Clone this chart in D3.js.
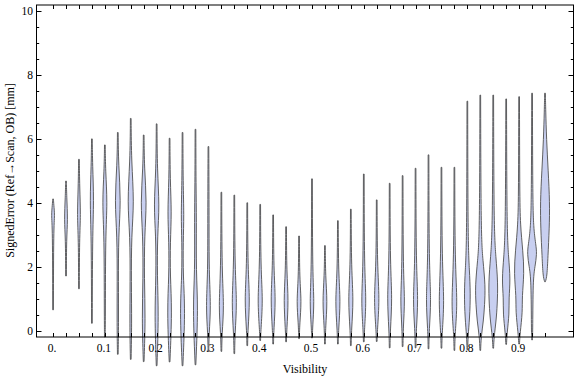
<!DOCTYPE html>
<html>
<head>
<meta charset="utf-8">
<script src="https://cdn.jsdelivr.net/npm/d3@7"></script>
<style>
  html, body { margin: 0; padding: 0; background: #fff; }
  svg { display: block; }
  text { font-family: "Liberation Serif", "Times New Roman", serif; fill: #000; }
</style>
</head>
<body>
<svg id="chart" width="576" height="377"></svg>
<script>
// ---- data ----
const visibility = [0, 0.025, 0.05, 0.075, 0.1, 0.125, 0.15, 0.175, 0.2, 0.225,
  0.25, 0.275, 0.3, 0.325, 0.35, 0.375, 0.4, 0.425, 0.45, 0.475,
  0.5, 0.525, 0.55, 0.575, 0.6, 0.625, 0.65, 0.675, 0.7, 0.725,
  0.75, 0.775, 0.8, 0.825, 0.85, 0.875, 0.9, 0.925, 0.95];

const errMin = [0.65, 1.71, 1.31, 0.23, -0.2, -0.74, -0.9, -0.97, -1.1, -0.98,
  -1.1, -1.07, -0.65, -0.65, -0.72, -0.47, -0.31, -0.42, -0.35, -0.25,
  -0.23, -0.42, -0.42, -0.47, -0.35, -0.34, -0.54, -0.5, -0.54, -0.57,
  -0.55, -0.62, -0.6, -0.62, -0.55, -0.43, -0.42, -0.29, 1.53];

const errMax = [4.12, 4.68, 5.36, 6.0, 5.81, 6.2, 6.64, 6.12, 6.47, 6.02,
  6.2, 6.3, 5.76, 4.33, 4.24, 4.0, 3.95, 3.62, 3.25, 2.96,
  4.75, 2.66, 3.44, 3.8, 4.9, 4.09, 4.61, 4.85, 5.08, 5.5,
  5.11, 5.11, 7.18, 7.37, 7.37, 7.25, 7.32, 7.43, 7.43];

// density profile knots per violin: [signed error, relative density]
const densityKnots = [
  [[3.25,0.03],[3.6,0.25],[3.95,0.06]],
  [[2.9,0.03],[3.45,0.25],[4.2,0.06]],
  [[2.9,0.03],[3.6,0.25],[4.5,0.06]],
  [[3.0,0.04],[4.05,0.3],[5.2,0.05]],
  [[0.5,0.04],[3.0,0.05],[4.0,0.4],[5.0,0.06]],
  [[0.2,0.08],[1.5,0.04],[3.0,0.06],[4.05,0.5],[5.2,0.06]],
  [[0.2,0.12],[1.5,0.04],[3.0,0.06],[4.0,0.55],[5.3,0.06]],
  [[0.4,0.25],[1.6,0.04],[3.0,0.08],[4.0,0.5],[5.1,0.05]],
  [[0.5,0.3],[1.7,0.04],[3.0,0.08],[3.9,0.45],[5.0,0.05]],
  [[0.65,0.38],[1.7,0.04],[2.8,0.06],[3.7,0.3],[4.7,0.04]],
  [[0.65,0.42],[1.7,0.04],[2.8,0.05],[3.6,0.2],[4.6,0.04]],
  [[0.75,0.42],[1.8,0.04],[3.5,0.12],[4.5,0.03]],
  [[-0.1,0.05],[0.75,0.38],[1.8,0.04],[3.5,0.06]],
  [[-0.1,0.05],[0.75,0.42],[1.8,0.04]],
  [[-0.1,0.05],[0.86,0.42],[1.9,0.04]],
  [[0.0,0.05],[0.96,0.42],[1.9,0.04]],
  [[0.0,0.05],[0.96,0.42],[1.9,0.04]],
  [[0.0,0.05],[0.96,0.4],[1.9,0.04]],
  [[0.0,0.05],[0.96,0.38],[1.8,0.04]],
  [[0.2,0.05],[0.91,0.38],[1.6,0.04]],
  [[0.1,0.05],[0.91,0.35],[1.7,0.04]],
  [[0.1,0.05],[0.91,0.38],[1.7,0.04]],
  [[0.0,0.05],[0.91,0.42],[1.8,0.04]],
  [[0.0,0.05],[0.96,0.42],[1.9,0.04]],
  [[0.0,0.05],[0.96,0.4],[1.9,0.04]],
  [[0.0,0.05],[1.0,0.45],[2.0,0.04]],
  [[0.0,0.05],[1.02,0.4],[2.0,0.04]],
  [[0.1,0.05],[0.96,0.35],[1.8,0.04]],
  [[0.0,0.05],[0.96,0.42],[2.0,0.04]],
  [[0.0,0.05],[0.96,0.42],[2.0,0.04]],
  [[-0.1,0.05],[0.91,0.45],[2.1,0.04]],
  [[-0.1,0.05],[0.85,0.5],[2.1,0.04]],
  [[-0.2,0.05],[0.4,0.35],[1.15,0.5],[1.9,0.3],[2.8,0.04]],
  [[-0.2,0.08],[0.3,0.5],[0.8,0.7],[1.4,0.85],[2.2,0.4],[3.0,0.06]],
  [[-0.2,0.08],[0.3,0.45],[0.8,0.65],[1.5,0.78],[2.3,0.4],[3.2,0.06]],
  [[-0.1,0.08],[0.55,0.5],[1.0,0.4],[1.6,0.7],[2.3,0.35],[3.2,0.06]],
  [[-0.1,0.1],[0.6,0.55],[1.05,0.45],[1.8,0.85],[2.5,0.6],[3.3,0.15],[4.3,0.04]],
  [[0.0,0.06],[1.6,0.1],[2.0,0.45],[2.4,0.8],[2.7,0.6],[3.2,0.2],[4.2,0.05]],
  [[1.7,0.3],[2.3,0.45],[3.2,0.7],[4.0,0.78],[5.0,0.5],[6.0,0.2],[6.9,0.06]]
];

const xTickLabels = [0, 0.1, 0.2, 0.3, 0.4, 0.5, 0.6, 0.7, 0.8, 0.9];
const yMajorTicks = [0, 2, 4, 6, 8, 10];
const xTitle = "Visibility";
const yTitle = "SignedError (Ref\u2192Scan, OB) [mm]";

// ---- layout ----
const svg = d3.select("#chart");
const frame = { left: 36.5, right: 573.5, top: 5, bottom: 337 };
const x = d3.scaleLinear().domain([-0.032, 1.005]).range([frame.left, frame.right]);
const y = d3.scaleLinear().domain([-0.2, 10.19]).range([frame.bottom, frame.top]);
const w = d3.scaleLinear().domain([0, 1]).range([0.35, 6]);

// violins
const area = d3.area()
  .curve(d3.curveBasis)
  .y(d => y(d[0]));

const g = svg.append("g");
visibility.forEach((v, i) => {
  const cx = x(v);
  const pts = [[errMin[i], 0]].concat(densityKnots[i], [[errMax[i], 0]]);
  area.x0(d => cx - w(d[1])).x1(d => cx + w(d[1]));
  g.append("path")
    .attr("d", area(pts))
    .attr("fill", "#c8cff0")
    .attr("stroke", "#505050")
    .attr("stroke-width", 0.9)
    .attr("stroke-linejoin", "round");
});

// frame
svg.append("rect")
  .attr("x", frame.left).attr("y", frame.top)
  .attr("width", frame.right - frame.left).attr("height", frame.bottom - frame.top)
  .attr("fill", "none").attr("stroke", "#000").attr("stroke-width", 1);

// x ticks at each violin position (bottom & top, inward)
const xt = svg.append("g").attr("stroke", "#000").attr("stroke-width", 1);
visibility.forEach(v => {
  const px = Math.round(x(v)) + 0.5;
  xt.append("line").attr("x1", px).attr("x2", px).attr("y1", frame.bottom).attr("y2", frame.bottom - 4);
  xt.append("line").attr("x1", px).attr("x2", px).attr("y1", frame.top).attr("y2", frame.top + 4);
});

// y ticks: major every 2, minor every 0.5 (left & right, inward)
const yt = svg.append("g").attr("stroke", "#000").attr("stroke-width", 1);
d3.range(0, 10.01, 0.5).forEach(v => {
  const py = Math.round(y(v)) + 0.5;
  const len = (Math.abs(v % 2) < 1e-9) ? 5 : 2.7;
  yt.append("line").attr("x1", frame.left).attr("x2", frame.left + len).attr("y1", py).attr("y2", py);
  yt.append("line").attr("x1", frame.right).attr("x2", frame.right - len).attr("y1", py).attr("y2", py);
});

// x tick labels
svg.append("g").selectAll("text").data(xTickLabels).join("text")
  .attr("x", d => x(d) - 1)
  .attr("y", 352)
  .attr("text-anchor", "middle")
  .attr("font-size", "11.5px")
  .text(d => d === 0 ? "0." : d3.format(".1f")(d));

// y tick labels
svg.append("g").selectAll("text").data(yMajorTicks).join("text")
  .attr("x", 33)
  .attr("y", d => y(d) + 4)
  .attr("text-anchor", "end")
  .attr("font-size", "11.5px")
  .text(d => d);

// axis titles
svg.append("text")
  .attr("x", 305).attr("y", 373)
  .attr("text-anchor", "middle")
  .attr("font-size", "12px")
  .text(xTitle);

svg.append("text")
  .attr("transform", "translate(13.5,170.5) rotate(-90)")
  .attr("text-anchor", "middle")
  .attr("font-size", "12px")
  .text(yTitle);
</script>
</body>
</html>
